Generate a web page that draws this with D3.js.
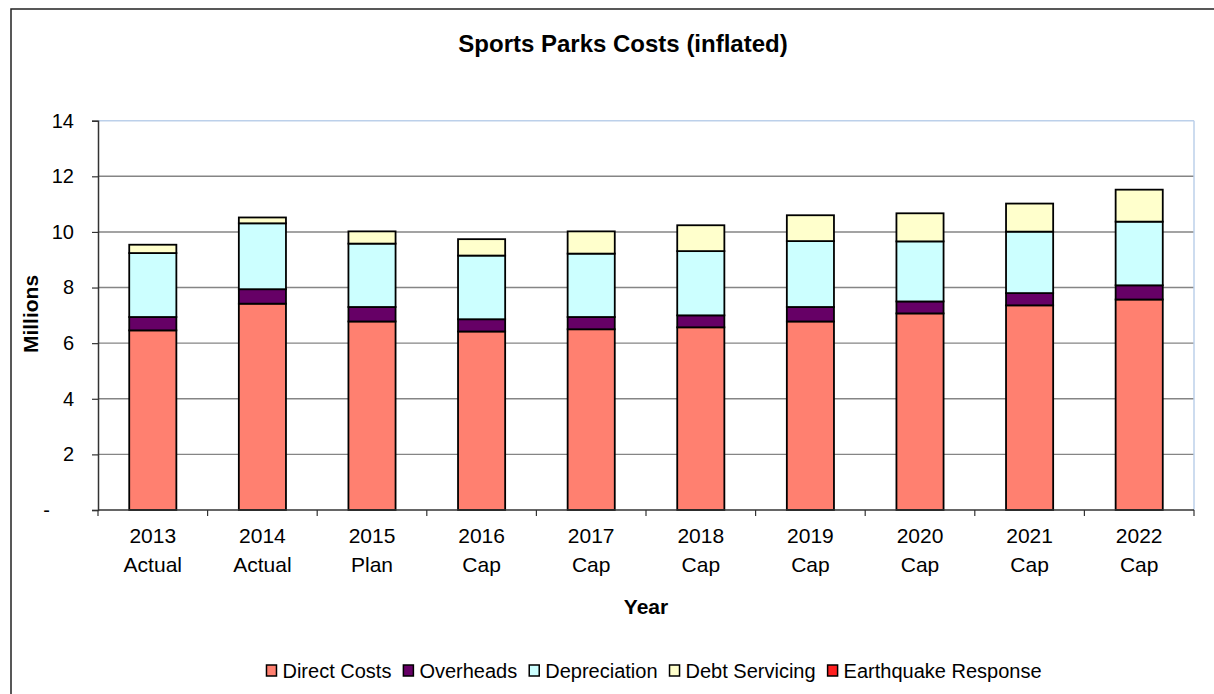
<!DOCTYPE html>
<html lang="en">
<head>
<meta charset="UTF-8">
<title>Sports Parks Costs (inflated)</title>
<script src="https://d3js.org/d3.v7.min.js"></script>
<style>
  body { margin: 0; background: #fff; }
  svg text { font-family: "Liberation Sans", Arial, sans-serif; fill: #000; }
</style>
</head>
<body>
<svg id="chart" width="1214" height="694"></svg>
<script>
// years along the x axis, with the second label line underneath
var years = ["2013", "2014", "2015", "2016", "2017", "2018", "2019", "2020", "2021", "2022"];
var yearTags = ["Actual", "Actual", "Plan", "Cap", "Cap", "Cap", "Cap", "Cap", "Cap", "Cap"];

// values in millions
var directCosts = [6.46, 7.42, 6.78, 6.42, 6.50, 6.57, 6.78, 7.07, 7.36, 7.57];
var overheads = [0.48, 0.52, 0.52, 0.44, 0.44, 0.43, 0.52, 0.43, 0.44, 0.51];
var depreciation = [2.30, 2.37, 2.28, 2.29, 2.28, 2.31, 2.37, 2.16, 2.21, 2.29];
var debtServicing = [0.30, 0.21, 0.44, 0.59, 0.80, 0.93, 0.93, 1.01, 1.01, 1.15];
var earthquakeResponse = [0, 0, 0, 0, 0, 0, 0, 0, 0, 0];

var seriesNames = ["Direct Costs", "Overheads", "Depreciation", "Debt Servicing", "Earthquake Response"];
var seriesColors = ["#ff8070", "#660066", "#ccffff", "#ffffcc", "#ff2020"];
var yTicks = [0, 2, 4, 6, 8, 10, 12, 14];

var svg = d3.select("#chart");

// outer frame of the chart (runs off the right / bottom edge)
svg.append("rect")
   .attr("x", 11).attr("y", 9)
   .attr("width", 1220).attr("height", 700)
   .attr("fill", "none")
   .attr("stroke", "#222")
   .attr("stroke-width", 1.5);

// note: "top" is a read-only global in browsers, so plot* names
var plotLeft = 98, plotRight = 1194, plotTop = 120.7, plotBottom = 510;

// build the rows d3.stack wants
var rows = years.map(function(y, i) {
  return {
    year: y,
    "Direct Costs": directCosts[i],
    "Overheads": overheads[i],
    "Depreciation": depreciation[i],
    "Debt Servicing": debtServicing[i],
    "Earthquake Response": earthquakeResponse[i]
  };
});
var stacked = d3.stack().keys(seriesNames)(rows);

var x = d3.scaleBand()
  .domain(years)
  .range([plotLeft, plotRight])
  .paddingInner(0.57)
  .paddingOuter(0.285);

var y = d3.scaleLinear()
  .domain([0, 14])
  .range([plotBottom, plotTop]);

var color = d3.scaleOrdinal().domain(seriesNames).range(seriesColors);

// gridlines
svg.append("g")
  .selectAll("line")
  .data(yTicks.filter(function(d) { return d > 0 && d < 14; }))
  .join("line")
  .attr("x1", plotLeft).attr("x2", plotRight)
  .attr("y1", function(d) { return y(d); })
  .attr("y2", function(d) { return y(d); })
  .attr("stroke", "#858585")
  .attr("stroke-width", 1.4);

// plot area border, top and right are light blue
svg.append("line")
  .attr("x1", plotLeft).attr("x2", plotRight)
  .attr("y1", y(14)).attr("y2", y(14))
  .attr("stroke", "#bcd0ea").attr("stroke-width", 1.5);
svg.append("line")
  .attr("x1", plotRight).attr("x2", plotRight)
  .attr("y1", y(14)).attr("y2", plotBottom)
  .attr("stroke", "#bcd0ea").attr("stroke-width", 1.5);

// stacked bars
svg.append("g")
  .selectAll("g")
  .data(stacked)
  .join("g")
  .attr("fill", function(d) { return color(d.key); })
  .selectAll("rect")
  .data(function(d) { return d.filter(function(p) { return p[1] - p[0] > 0; }); })
  .join("rect")
  .attr("x", function(d) { return x(d.data.year); })
  .attr("width", x.bandwidth())
  .attr("y", function(d) { return y(d[1]); })
  .attr("height", function(d) { return y(d[0]) - y(d[1]); })
  .attr("stroke", "#000")
  .attr("stroke-width", 1.8);

// y axis
var yAxis = svg.append("g")
  .attr("transform", "translate(" + plotLeft + ",0)")
  .call(d3.axisLeft(y)
    .tickValues(yTicks)
    .tickSize(6)
    .tickPadding(18)
    .tickFormat(function(d) { return d === 0 ? "-" : d; }));
yAxis.select(".domain").attr("stroke", "#333").attr("stroke-width", 1.5);
yAxis.selectAll(".tick line").attr("stroke", "#333").attr("stroke-width", 1.2);
yAxis.selectAll(".tick text")
  .attr("font-size", 20)
  .attr("font-family", "Liberation Sans, Arial, sans-serif")
  .attr("fill", "#000");
// excel accounting format puts the dash further left
yAxis.selectAll(".tick text").filter(function(d) { return d === 0; }).attr("x", -48);

// x axis line with ticks between categories
svg.append("line")
  .attr("x1", plotLeft).attr("x2", plotRight)
  .attr("y1", plotBottom).attr("y2", plotBottom)
  .attr("stroke", "#333").attr("stroke-width", 1.5);
var edges = years.map(function(d) { return x(d) - x.step() * x.paddingInner() / 2; });
edges.push(plotRight);
svg.append("g")
  .selectAll("line")
  .data(edges)
  .join("line")
  .attr("x1", function(d) { return d; }).attr("x2", function(d) { return d; })
  .attr("y1", plotBottom).attr("y2", plotBottom + 6)
  .attr("stroke", "#333").attr("stroke-width", 1.2);

var xl = svg.append("g")
  .selectAll("text")
  .data(years)
  .join("text")
  .attr("text-anchor", "middle")
  .attr("font-size", 21)
  .attr("x", function(d) { return x(d) + x.bandwidth() / 2; })
  .attr("y", 543);
xl.append("tspan").text(function(d) { return d; });
xl.append("tspan")
  .attr("x", function(d) { return x(d) + x.bandwidth() / 2; })
  .attr("y", 572)
  .text(function(d, i) { return yearTags[i]; });

// titles
svg.append("text")
  .attr("x", 623).attr("y", 52)
  .attr("text-anchor", "middle")
  .attr("font-size", 24).attr("font-weight", "bold")
  .text("Sports Parks Costs (inflated)");

svg.append("text")
  .attr("transform", "translate(38,314) rotate(-90)")
  .attr("text-anchor", "middle")
  .attr("font-size", 21).attr("font-weight", "bold")
  .text("Millions");

svg.append("text")
  .attr("x", 646).attr("y", 614)
  .attr("text-anchor", "middle")
  .attr("font-size", 21).attr("font-weight", "bold")
  .text("Year");

// legend along the bottom
var legend = svg.append("g");
var lx = 0;
seriesNames.forEach(function(name) {
  var item = legend.append("g").attr("transform", "translate(" + lx + ",0)");
  item.append("rect")
    .attr("x", 0).attr("y", 665)
    .attr("width", 10).attr("height", 11)
    .attr("fill", color(name))
    .attr("stroke", "#000").attr("stroke-width", 1.5);
  var t = item.append("text")
    .attr("x", 16).attr("y", 678)
    .attr("font-size", 20)
    .text(name);
  lx += 16 + t.node().getComputedTextLength() + 12;
});
var legendW = lx - 12;
legend.attr("transform", "translate(" + (654 - legendW / 2) + ",0)");
</script>
</body>
</html>
